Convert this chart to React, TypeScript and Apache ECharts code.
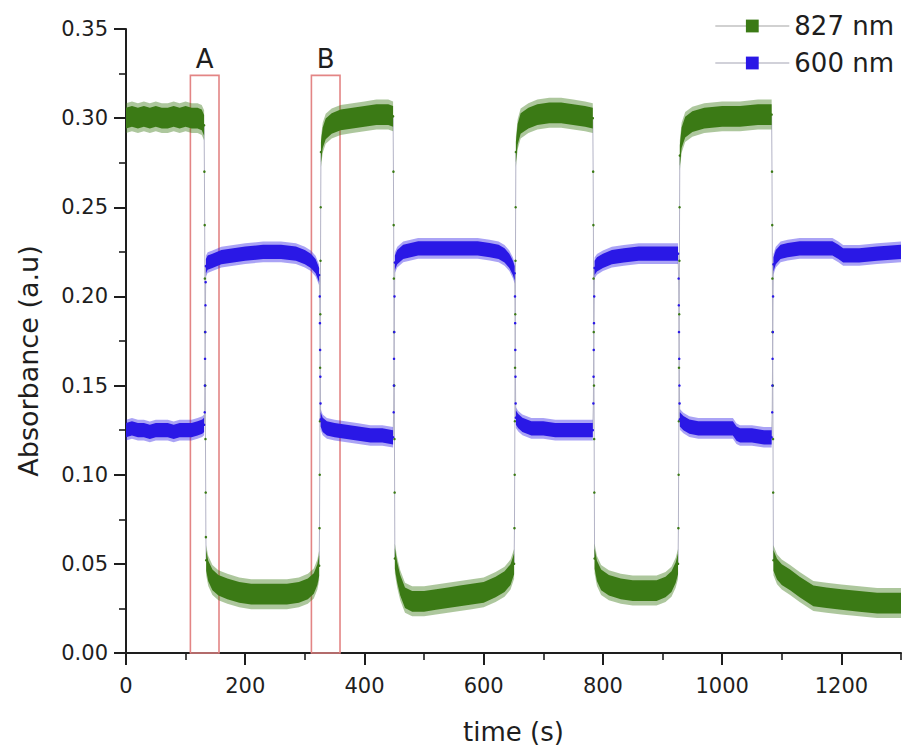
import React, { useEffect, useRef } from "react";
import * as echarts from "echarts";

type Pt = [number, number];

// ---------- axes ----------
const TIME_MAX = 1300;
const TIME_LABELS = [0, 200, 400, 600, 800, 1000, 1200];
const ABS_MAX = 0.35;
const ABS_STEP = 0.05;

// ---------- 827 nm (green) : plateaus, [time s, absorbance] ----------
const green827Plateaus: Pt[][] = [
  [[0, 0.300], [10, 0.301], [20, 0.300], [30, 0.301], [40, 0.300], [50, 0.301], [60, 0.300], [70, 0.300], [80, 0.301], [90, 0.300], [100, 0.301], [110, 0.300], [120, 0.300], [127, 0.299], [131, 0.296]],
  [[134.5, 0.052], [138, 0.046], [145, 0.041], [155, 0.038], [170, 0.036], [190, 0.034], [210, 0.033], [240, 0.033], [270, 0.033], [290, 0.034], [305, 0.036], [315, 0.039], [321, 0.044], [324, 0.049]],
  [[327, 0.281], [330, 0.289], [335, 0.294], [345, 0.297], [360, 0.299], [380, 0.300], [400, 0.301], [420, 0.302], [440, 0.302], [448, 0.301]],
  [[451, 0.053], [455, 0.045], [460, 0.038], [468, 0.031], [480, 0.029], [500, 0.029], [520, 0.030], [540, 0.031], [560, 0.032], [580, 0.033], [600, 0.034], [620, 0.037], [635, 0.040], [645, 0.044], [651, 0.050]],
  [[654, 0.281], [657, 0.291], [662, 0.297], [675, 0.300], [690, 0.302], [710, 0.303], [730, 0.303], [750, 0.302], [770, 0.301], [783, 0.300]],
  [[786, 0.053], [790, 0.046], [797, 0.041], [810, 0.038], [830, 0.036], [850, 0.035], [870, 0.035], [890, 0.035], [905, 0.037], [915, 0.040], [922, 0.045], [926, 0.050]],
  [[929, 0.279], [932, 0.289], [938, 0.295], [950, 0.298], [970, 0.300], [1000, 0.301], [1030, 0.301], [1060, 0.302], [1083, 0.302]],
  [[1086, 0.052], [1092, 0.047], [1100, 0.044], [1114, 0.041], [1130, 0.037], [1153, 0.032], [1175, 0.031], [1200, 0.030], [1230, 0.029], [1260, 0.028], [1300, 0.028]],
];

// ---------- 827 nm (green) : switching steps ----------
const green827Steps: Pt[][] = [
  [[131, 0.296], [131.5, 0.27], [132, 0.24], [132.3, 0.21], [132.6, 0.18], [133, 0.15], [133.3, 0.12], [133.7, 0.09], [134, 0.065], [134.5, 0.052]],
  [[324, 0.049], [324.6, 0.07], [325, 0.10], [325.3, 0.13], [325.6, 0.16], [326, 0.19], [326.3, 0.22], [326.6, 0.25], [327, 0.281]],
  [[448, 0.301], [448.6, 0.27], [449, 0.24], [449.3, 0.21], [449.6, 0.18], [450, 0.15], [450.3, 0.12], [450.6, 0.09], [451, 0.053]],
  [[651, 0.050], [651.6, 0.07], [652, 0.10], [652.3, 0.13], [652.6, 0.16], [653, 0.19], [653.3, 0.22], [653.6, 0.25], [654, 0.281]],
  [[783, 0.300], [783.6, 0.27], [784, 0.24], [784.3, 0.21], [784.6, 0.18], [785, 0.15], [785.3, 0.12], [785.6, 0.09], [786, 0.053]],
  [[926, 0.050], [926.6, 0.07], [927, 0.10], [927.3, 0.13], [927.6, 0.16], [928, 0.19], [928.3, 0.22], [928.6, 0.25], [929, 0.279]],
  [[1083, 0.302], [1083.6, 0.27], [1084, 0.24], [1084.3, 0.21], [1084.6, 0.18], [1085, 0.15], [1085.3, 0.12], [1085.6, 0.09], [1086, 0.052]],
];

// ---------- 600 nm (blue) : plateaus ----------
const blue600Plateaus: Pt[][] = [
  [[0, 0.125], [10, 0.126], [20, 0.125], [30, 0.125], [40, 0.124], [50, 0.125], [60, 0.125], [70, 0.125], [80, 0.124], [90, 0.125], [100, 0.125], [110, 0.125], [120, 0.126], [128, 0.127], [131, 0.128]],
  [[134, 0.217], [137, 0.219], [145, 0.220], [160, 0.222], [180, 0.223], [200, 0.224], [230, 0.225], [260, 0.225], [285, 0.224], [300, 0.222], [310, 0.220], [318, 0.217], [324, 0.212]],
  [[326.5, 0.131], [330, 0.128], [337, 0.126], [350, 0.125], [370, 0.124], [390, 0.123], [410, 0.122], [430, 0.122], [448, 0.121]],
  [[451, 0.219], [455, 0.222], [465, 0.225], [490, 0.227], [520, 0.227], [560, 0.227], [590, 0.227], [610, 0.226], [625, 0.225], [635, 0.223], [643, 0.220], [649, 0.216], [652, 0.213]],
  [[654, 0.132], [658, 0.130], [665, 0.128], [680, 0.126], [700, 0.126], [720, 0.125], [740, 0.125], [760, 0.125], [783, 0.125]],
  [[786, 0.216], [790, 0.218], [800, 0.220], [815, 0.222], [835, 0.223], [860, 0.224], [890, 0.224], [910, 0.224], [926, 0.224]],
  [[929, 0.131], [935, 0.129], [945, 0.127], [960, 0.126], [980, 0.126], [1000, 0.126], [1018, 0.126], [1024, 0.123], [1030, 0.122], [1050, 0.122], [1070, 0.121], [1083, 0.121]],
  [[1086, 0.218], [1090, 0.222], [1098, 0.225], [1110, 0.226], [1130, 0.227], [1160, 0.227], [1185, 0.227], [1195, 0.225], [1203, 0.223], [1230, 0.223], [1260, 0.224], [1300, 0.225]],
];

// ---------- 600 nm (blue) : switching steps ----------
const blue600Steps: Pt[][] = [
  [[131, 0.128], [132, 0.135], [132.3, 0.15], [132.6, 0.165], [133, 0.18], [133.3, 0.195], [133.6, 0.208], [134, 0.217]],
  [[324, 0.212], [325, 0.2], [325.3, 0.185], [325.6, 0.17], [326, 0.155], [326.3, 0.14], [326.5, 0.131]],
  [[448, 0.121], [449, 0.135], [449.3, 0.15], [449.6, 0.165], [450, 0.18], [450.4, 0.2], [451, 0.219]],
  [[652, 0.213], [652.5, 0.2], [652.8, 0.185], [653, 0.17], [653.3, 0.155], [653.6, 0.14], [654, 0.132]],
  [[783, 0.125], [784, 0.14], [784.3, 0.155], [784.6, 0.17], [785, 0.185], [785.4, 0.2], [786, 0.216]],
  [[926, 0.224], [927, 0.21], [927.3, 0.195], [927.6, 0.18], [928, 0.165], [928.3, 0.15], [928.6, 0.14], [929, 0.131]],
  [[1083, 0.121], [1084, 0.135], [1084.3, 0.15], [1084.6, 0.165], [1085, 0.18], [1085.4, 0.2], [1086, 0.218]],
];

// ---------- highlighted windows A and B ----------
const windowLabels = ["A", "B"];
const windowStart = [108, 311];
const windowEnd = [156, 359];
const windowTop = [0.324, 0.324];

const SERIES_NAMES = ["827 nm", "600 nm"];

const GREEN = "#3b7a15";
const BLUE = "#2a18e6";
const FONT = "DejaVu Sans";
const INK = "#1e1e1e";

function bandSeries(segs: Pt[][], half: number, fill: string, z: number) {
  return {
    type: "custom",
    coordinateSystem: "cartesian2d",
    silent: true,
    clip: true,
    z,
    data: segs.map((s) => [s[0][0], s[0][1]]),
    renderItem: (params: any, api: any) => {
      const seg = segs[params.dataIndex];
      const top = seg.map(([t, v]) => api.coord([t, v + half]));
      const bottom = seg.map(([t, v]) => api.coord([t, v - half])).reverse();
      return {
        type: "polygon",
        shape: { points: top.concat(bottom) },
        style: { fill, stroke: null },
      };
    },
  };
}

function stepSeries(steps: Pt[][], color: string) {
  return steps.map((s) => ({
    type: "line",
    data: s,
    silent: true,
    z: 2,
    symbol: "circle",
    symbolSize: 2.5,
    showSymbol: true,
    itemStyle: { color },
    lineStyle: { color: "#b3b3c6", width: 1 },
  }));
}

export default function App() {
  const ref = useRef<HTMLDivElement>(null);

  useEffect(() => {
    document.body.style.margin = "0";
    if (!ref.current) return;
    const chart = echarts.init(ref.current, undefined, { renderer: "svg" });

    const markAreaData = windowLabels.map((lab, i) => [
      { name: lab, xAxis: windowStart[i], yAxis: 0 },
      { xAxis: windowEnd[i], yAxis: windowTop[i] },
    ]);

    const option: any = {
      animation: false,
      backgroundColor: "#ffffff",
      textStyle: { fontFamily: FONT, color: INK },
      grid: { left: 126, right: 1, top: 29, bottom: 96, containLabel: false },
      legend: {
        data: SERIES_NAMES,
        orient: "vertical",
        right: 3,
        top: 8,
        itemWidth: 74,
        itemHeight: 16,
        itemGap: 11,
        lineStyle: { width: 1.2 },
        textStyle: { fontFamily: FONT, fontSize: 26, color: INK },
        selectedMode: false,
      },
      xAxis: [
        {
          type: "value",
          min: 0,
          max: TIME_MAX,
          interval: 100,
          position: "bottom",
          axisLine: { show: true, lineStyle: { color: INK, width: 2 } },
          axisTick: { show: true, length: 7, lineStyle: { color: INK, width: 1.6 } },
          axisLabel: { show: false },
          splitLine: { show: false },
        },
        {
          type: "value",
          min: 0,
          max: TIME_MAX,
          interval: 200,
          position: "bottom",
          name: "time (s)",
          nameLocation: "middle",
          nameGap: 66,
          nameTextStyle: { fontFamily: FONT, fontSize: 26, color: INK },
          axisLine: { show: false },
          axisTick: {
            show: true,
            length: 12,
            customValues: TIME_LABELS,
            lineStyle: { color: INK, width: 2 },
          },
          axisLabel: {
            show: true,
            customValues: TIME_LABELS,
            margin: 22,
            fontFamily: FONT,
            fontSize: 21,
            color: INK,
            formatter: (v: number) => String(v),
          },
          splitLine: { show: false },
        },
      ],
      yAxis: {
        type: "value",
        min: 0,
        max: ABS_MAX,
        interval: ABS_STEP,
        name: "Absorbance (a.u)",
        nameLocation: "middle",
        nameGap: 84,
        nameTextStyle: { fontFamily: FONT, fontSize: 27, color: INK, padding: [0, 40, 0, 0] },
        axisLine: { show: true, lineStyle: { color: INK, width: 2 } },
        axisTick: { show: true, length: 12, lineStyle: { color: INK, width: 2 } },
        minorTick: { show: true, splitNumber: 2, length: 7, lineStyle: { color: INK, width: 1.6 } },
        axisLabel: {
          margin: 18,
          fontFamily: FONT,
          fontSize: 21,
          color: INK,
          formatter: (v: number) => v.toFixed(2),
        },
        splitLine: { show: false },
        minorSplitLine: { show: false },
      },
      series: [
        ...stepSeries(green827Steps, GREEN),
        ...stepSeries(blue600Steps, BLUE),
        bandSeries(green827Plateaus, 0.0084, "rgba(59,122,21,0.42)", 3),
        bandSeries(green827Plateaus, 0.0058, GREEN, 4),
        bandSeries(blue600Plateaus, 0.0058, "rgba(42,24,230,0.4)", 3),
        bandSeries(blue600Plateaus, 0.004, BLUE, 4),
        {
          type: "line",
          name: SERIES_NAMES[0],
          data: [],
          symbol: "rect",
          itemStyle: { color: GREEN },
          lineStyle: { color: "#a3a3a3", width: 1.2 },
        },
        {
          type: "line",
          name: SERIES_NAMES[1],
          data: [],
          symbol: "rect",
          itemStyle: { color: BLUE },
          lineStyle: { color: "#a3a3b3", width: 1.2 },
        },
        {
          type: "line",
          data: [[0, 0]],
          showSymbol: false,
          silent: true,
          lineStyle: { opacity: 0 },
          z: 5,
          markArea: {
            silent: true,
            itemStyle: { color: "rgba(0,0,0,0)", borderColor: "#e38585", borderWidth: 1.6 },
            label: {
              show: true,
              position: "top",
              distance: 3,
              fontFamily: FONT,
              fontSize: 26,
              color: INK,
            },
            data: markAreaData,
          },
        },
      ],
    };

    chart.setOption(option);
    return () => chart.dispose();
  }, []);

  return <div ref={ref} style={{ width: 902, height: 750 }} />;
}
